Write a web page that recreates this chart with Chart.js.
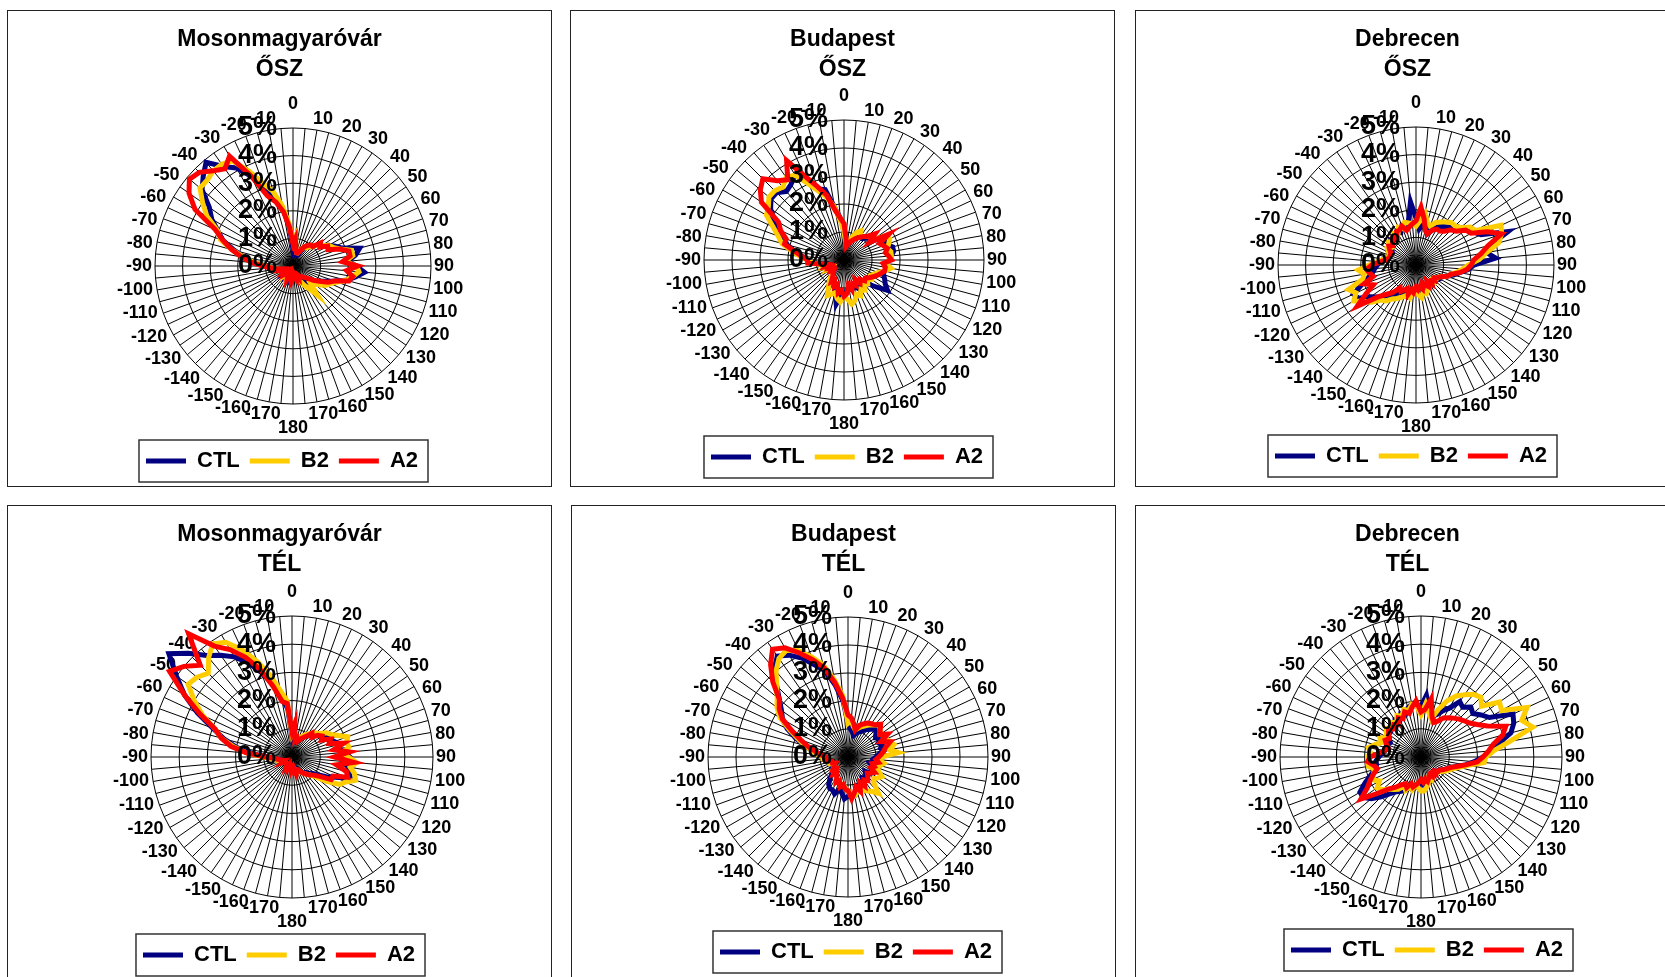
<!DOCTYPE html>
<html>
<head>
<meta charset="utf-8">
<script src="https://cdn.jsdelivr.net/npm/chart.js@4.4.1/dist/chart.umd.min.js"></script>
<style>
  html, body { margin: 0; padding: 0; background: #fff; width: 1665px; height: 977px; overflow: hidden; }
  .panel { position: absolute; width: 543px; height: 475px; border: 1px solid #222; background: #fff; }
  .panel canvas { position: absolute; left: 0; top: 0; }
</style>
</head>
<body>
<div class="panel" style="left:7px;top:10px"><canvas id="c0" data-panel="0" width="543" height="475"></canvas></div>
<div class="panel" style="left:570px;top:10px"><canvas id="c1" data-panel="1" width="543" height="475"></canvas></div>
<div class="panel" style="left:1135px;top:10px"><canvas id="c2" data-panel="2" width="543" height="475"></canvas></div>
<div class="panel" style="left:7px;top:505px"><canvas id="c3" data-panel="3" width="543" height="475"></canvas></div>
<div class="panel" style="left:571px;top:505px"><canvas id="c4" data-panel="4" width="543" height="475"></canvas></div>
<div class="panel" style="left:1135px;top:505px"><canvas id="c5" data-panel="5" width="543" height="475"></canvas></div>
<script>
// wind direction categories, every 5 degrees, labelled every 10
const directions = ['0','','10','','20','','30','','40','','50','','60','','70','','80','','90','',
  '100','','110','','120','','130','','140','','150','','160','','170','','180','',
  '-170','','-160','','-150','','-140','','-130','','-120','','-110','','-100','',
  '-90','','-80','','-70','','-60','','-50','','-40','','-30','','-20','','-10',''];

const seriesNames = ['CTL', 'B2', 'A2'];
const seriesColors = ['#000080', '#FFCC00', '#FF0000'];
const cities = ['Mosonmagyaróvár', 'Budapest', 'Debrecen'];
const seasons = ['ŐSZ', 'TÉL'];

// frequency (%) per direction
const mosonOszCTL = [0.6,0.8,0.6,0.4,0.4,0.5,0.7,0.8,0.9, 1.0,1.2,1.3,1.5,1.7,1.9,2.5,2.3,2.0, 2.3,2.6,2.3,2.0,1.6,1.3,1.1,1.0,0.9, 0.8,0.9,0.7,0.6,0.6,0.5,0.5,0.4,0.4,
  0.4,0.4,0.4,0.5,0.4,0.4,0.3,0.4,0.3, 0.3,0.4,0.3,0.4,0.4,0.4,0.5,0.6,0.8, 1.0,1.4,1.8,2.2,2.7,3.0,3.4,3.7,4.3, 4.6,4.9,4.4,4.1,3.6,3.1,2.6,2.1,1.4];
const mosonOszB2 = [0.9,1.1,0.6,0.5,0.5,0.6,0.8,0.8,0.9, 1.0,1.2,1.3,1.5,1.6,1.8,2.2,2.2,1.9, 2.3,2.4,2.2,2.0,1.7,1.5,1.4,1.2,1.0, 0.9,1.4,1.0,0.8,0.6,0.5,0.5,0.4,0.4,
  0.4,0.4,0.3,0.4,0.4,0.3,0.4,0.3,0.4, 0.3,0.4,0.4,0.3,0.4,0.5,0.5,0.6,0.8, 1.0,1.4,1.8,2.3,2.8,3.0,3.6,4.0,4.4, 4.4,4.5,4.5,4.4,3.8,3.2,2.8,2.2,1.5];
const mosonOszA2 = [0.8,1.0,0.6,0.5,0.5,0.6,0.8,0.9,1.0, 1.0,1.3,1.2,1.45,1.4,1.8,2.1,2.1,1.8, 2.35,1.95,2.2,2.1,1.6,1.4,1.1,0.9,0.7, 0.6,0.5,0.5,0.4,0.5,0.4,0.5,0.4,0.3,
  0.4,0.3,0.5,0.4,0.3,0.5,0.4,0.4,0.3, 0.4,0.3,0.4,0.3,0.4,0.5,0.4,0.6,0.8, 1.1,1.5,1.9,2.3,2.7,3.1,4.1,4.6,4.9, 4.8,4.5,4.3,4.6,3.6,2.7,2.4,2.0,1.4];

const budaOszCTL = [1.1,0.8,0.6,0.6,0.8,1.0,1.1,1.0,1.0, 1.1,1.3,1.2,1.5,1.6,1.6,1.8,1.8,1.7, 1.6,1.5,1.6,1.5,1.5,1.6,1.7,1.9,1.5, 1.2,1.0,1.1,0.9,1.1,1.0,1.1,1.0,1.1,
  1.2,1.3,1.6,1.2,1.0,0.9,0.8,0.7,0.6, 0.5,0.6,0.5,0.6,0.6,0.7,0.6,0.8,1.1, 1.3,1.5,1.8,2.1,2.3,2.6,2.9,3.2,3.4, 3.4,3.2,3.3,3.5,3.1,2.7,2.6,1.9,1.5];
const budaOszB2 = [1.0,0.7,0.6,0.7,0.9,1.1,1.2,1.0,1.1, 1.2,1.3,1.3,1.7,1.8,1.7,1.6,1.7,1.7, 1.6,1.5,1.7,1.5,1.3,1.2,1.1,1.2,1.1, 1.2,1.1,1.3,1.2,1.4,1.3,1.5,1.6,1.4,
  1.3,1.5,1.4,1.2,1.3,1.4,1.1,0.9,0.7, 0.6,0.6,0.5,0.7,0.6,0.8,0.7,0.9,1.1, 1.3,1.6,1.9,2.3,2.5,2.8,3.2,3.3,3.5, 3.5,3.4,3.6,3.5,3.0,2.6,2.3,1.9,1.4];
const budaOszA2 = [1.3,0.8,0.5,0.6,0.7,0.8,0.9,1.0,1.1, 1.2,1.45,1.1,1.85,1.4,1.5,1.6,1.5,1.6, 1.7,1.4,1.5,1.5,1.4,1.3,1.2,1.1,1.0, 1.05,0.9,1.0,0.8,1.0,0.9,1.1,0.9,1.2,
  1.3,1.1,1.2,0.9,1.0,0.8,0.9,0.7,0.6, 0.5,0.6,0.5,0.6,0.5,0.7,0.6,0.8,1.3, 1.3,1.5,1.8,2.2,2.2,2.5,2.7,3.6,3.9, 4.1,3.7,3.5,4.1,3.3,2.8,2.4,1.8,1.5];

const debrOszCTL = [1.7,1.3,1.5,1.4,1.2,1.4,1.6,1.7,1.8, 2.0,2.1,2.3,2.4,2.6,3.55,2.8,2.6,2.9, 2.1,1.9,1.6,1.4,1.2,1.0,1.0,0.9,0.8, 0.8,0.9,0.8,0.8,0.9,0.8,0.9,1.0,0.9,
  0.9,1.0,1.1,1.2,1.1,1.2,1.1,1.3,1.4, 1.6,1.8,2.0,2.4,2.5,2.1,1.8,1.6,1.5, 1.4,1.3,1.2,1.1,1.0,1.1,1.0,1.1,1.2, 1.3,1.2,1.3,1.4,1.3,1.5,1.4,1.6,2.3];
const debrOszB2 = [1.4,1.6,1.9,1.6,1.5,1.7,1.8,1.9,2.0, 2.0,2.1,2.4,2.5,3.4,3.3,3.1,2.6,2.3, 1.9,1.7,1.5,1.3,1.2,1.0,0.9,0.9,0.8, 0.9,0.8,0.9,0.9,1.0,1.1,1.0,1.2,1.1,
  0.9,1.0,1.2,1.1,1.2,1.3,1.4,1.5,1.7, 1.8,2.1,2.3,2.6,2.4,2.6,2.0,1.9,2.1, 1.7,1.4,1.2,1.1,1.0,1.1,1.2,1.1,1.3, 1.2,1.3,1.4,1.3,1.5,1.4,1.6,1.55,1.5];
const debrOszA2 = [1.6,2.1,1.7,1.3,1.2,1.4,1.5,1.5,1.6, 1.8,1.9,2.2,2.3,2.85,3.3,2.7,2.4,2.1, 2.0,1.85,1.6,1.3,1.2,1.0,0.9,0.8,0.9, 0.8,0.9,0.7,0.9,0.8,0.7,0.9,0.8,0.9,
  0.8,1.0,0.9,1.1,0.9,1.0,1.1,1.0,1.3, 1.5,1.8,2.6,2.1,1.7,2.0,1.6,1.7,1.8, 1.6,1.3,1.1,1.0,1.0,1.0,1.1,1.2,1.1, 1.2,1.3,1.2,1.4,1.4,1.5,1.3,1.4,1.5];

const mosonTelCTL = [0.7,0.9,0.6,0.6,0.6,0.7,0.8,0.9,1.0, 1.1,1.2,1.3,1.4,1.5,1.6,1.75,1.7,1.9, 2.05,1.9,2.0,2.1,2.2,1.7,1.4,1.1,0.9, 0.8,0.7,0.7,0.6,0.5,0.5,0.4,0.4,0.4,
  0.4,0.4,0.3,0.3,0.3,0.3,0.3,0.3,0.3, 0.3,0.3,0.3,0.3,0.3,0.4,0.4,0.5,0.6, 0.9,1.4,2.0,2.5,3.0,3.7,4.4,5.0,5.7, 5.2,4.7,4.4,4.1,3.7,3.2,2.7,2.2,1.7];
const mosonTelB2 = [0.8,1.0,0.7,0.7,0.7,0.8,0.9,1.0,1.1, 1.2,1.3,1.5,1.6,1.8,2.1,2.0,2.05,1.8, 2.0,2.3,2.1,2.3,2.4,2.1,1.95,1.5,1.1, 0.9,0.8,0.7,0.6,0.6,0.5,0.5,0.4,0.4,
  0.4,0.4,0.4,0.3,0.3,0.3,0.3,0.3,0.3, 0.3,0.3,0.3,0.3,0.4,0.4,0.5,0.6,0.7, 1.0,1.6,2.1,2.6,2.9,3.5,4.0,4.5,4.4, 4.2,4.6,4.9,4.7,4.2,3.6,3.0,2.4,2.0];
const mosonTelA2 = [0.9,1.2,0.6,0.7,0.6,0.7,0.8,0.9,1.1, 1.0,1.2,1.3,1.2,1.5,1.4,1.9,1.5,2.05, 1.5,2.2,1.6,2.0,2.1,1.6,1.6,1.2,1.0, 0.9,0.8,0.7,0.6,0.5,0.5,0.6,0.4,0.5,
  0.4,0.5,0.4,0.3,0.4,0.3,0.4,0.3,0.3, 0.3,0.3,0.3,0.4,0.3,0.4,0.4,0.5,0.6, 0.9,1.6,2.2,2.6,2.9,3.6,4.4,5.3,5.0, 4.6,5.7,4.8,4.4,3.9,3.3,2.6,2.0,1.9];

const budaTelCTL = [1.2,1.0,0.9,0.8,0.9,1.0,1.1,1.2,1.3, 1.4,1.3,1.2,1.4,1.2,1.3,1.2,1.3,1.1, 1.0,0.9,1.0,0.8,0.9,0.9,1.0,1.0,0.8, 0.9,1.0,0.9,1.1,1.2,1.1,1.3,1.4,1.3,
  1.4,1.5,1.3,1.2,1.4,1.3,1.3,1.2,1.0, 0.8,0.7,0.7,0.6,0.6,0.7,0.7,0.8,0.8, 0.8,1.0,1.2,1.6,2.0,2.4,2.7,2.9,3.2, 3.6,4.1,4.4,4.2,3.9,3.5,3.2,2.6,2.0];
const budaTelB2 = [1.2,1.3,1.1,1.0,1.1,1.2,1.3,1.4,1.5, 1.6,1.5,1.4,1.5,1.5,1.6,1.7,1.5,1.8, 1.2,1.1,1.3,1.2,1.1,1.2,1.4,1.3,1.2, 1.3,1.7,1.5,1.4,1.3,1.2,1.3,1.4,1.3,
  1.2,1.1,1.0,1.0,0.9,1.0,0.9,0.8,0.8, 0.7,0.7,0.6,0.6,0.6,0.7,0.7,0.8,0.9, 0.9,1.1,1.3,1.6,1.9,2.3,2.8,3.1,3.3, 3.6,4.0,4.3,4.4,4.2,3.8,3.4,2.8,2.2];
const budaTelA2 = [1.5,1.4,1.2,1.0,1.2,1.3,1.4,1.45,1.5, 1.65,1.5,1.4,1.64,1.3,1.6,1.4,1.3,1.2, 1.1,1.0,1.1,0.9,1.0,0.9,1.1,1.0,0.9, 1.0,1.1,1.0,1.2,1.0,1.3,1.1,1.3,1.5,
  1.2,1.15,1.0,1.1,0.9,1.0,0.8,0.7,0.8, 0.6,0.7,0.6,0.6,0.5,0.6,0.6,0.7,0.8, 0.8,1.0,1.2,1.5,1.8,2.2,2.7,3.0,3.2, 3.8,4.3,4.7,4.5,4.1,3.7,3.3,2.7,2.1];

const debrTelCTL = [1.8,2.2,1.7,1.5,1.6,1.8,2.0,2.4,2.3, 2.5,2.4,2.6,2.8,3.6,3.5,3.3,2.8,2.5, 2.2,1.9,1.6,1.3,1.1,1.0,0.9,0.8,0.8, 0.7,0.8,0.7,0.8,0.8,0.9,0.8,0.9,1.0,
  0.9,1.0,1.1,1.2,1.1,1.3,1.4,1.5,1.7, 2.0,2.3,2.5,2.5,2.2,1.9,1.7,1.6,1.6, 1.5,1.4,1.3,1.2,1.3,1.2,1.3,1.4,1.4, 1.5,1.4,1.6,1.5,1.7,1.6,1.8,1.9,1.8];
const debrTelB2 = [1.5,1.9,1.6,1.4,1.8,2.2,2.5,2.7,2.9, 3.0,2.8,3.4,3.3,4.15,3.8,4.1,3.2,2.6, 2.3,2.25,1.7,1.4,1.2,1.1,1.0,0.9,0.8, 0.8,0.8,0.7,0.8,0.9,0.8,1.0,1.1,1.2,
  1.2,1.1,1.0,1.2,1.1,1.3,1.2,1.4,1.5, 1.6,1.8,1.9,1.7,1.9,1.8,1.7,1.9,1.9, 1.9,1.8,1.9,1.7,1.5,1.6,1.4,1.5,1.6, 1.5,1.6,1.5,1.7,1.6,1.8,1.7,1.9,1.8];
const debrTelA2 = [1.6,1.7,2.1,1.5,1.3,1.4,1.6,1.7,1.8, 1.9,2.0,2.1,2.3,2.6,3.2,3.0,2.6,2.4, 2.2,2.0,1.6,1.3,1.1,1.0,0.9,0.8,0.8, 0.7,0.8,0.7,0.8,0.7,0.8,0.9,0.8,0.9,
  0.8,0.9,1.0,1.1,1.0,1.2,1.1,1.2,1.4, 1.6,2.0,2.6,2.2,2.0,1.8,1.6,1.7,1.9, 1.8,1.5,1.3,1.2,1.3,1.4,1.3,1.4,1.5, 1.4,1.5,1.4,1.6,1.5,1.7,1.6,1.8,2.0];

const panels = [
  { city: 0, season: 0, series: [mosonOszCTL, mosonOszB2, mosonOszA2] },
  { city: 1, season: 0, series: [budaOszCTL, budaOszB2, budaOszA2] },
  { city: 2, season: 0, series: [debrOszCTL, debrOszB2, debrOszA2] },
  { city: 0, season: 1, series: [mosonTelCTL, mosonTelB2, mosonTelA2] },
  { city: 1, season: 1, series: [budaTelCTL, budaTelB2, budaTelA2] },
  { city: 2, season: 1, series: [debrTelCTL, debrTelB2, debrTelA2] },
];

// plot placement inside each canvas: centre, 5% radius, legend centre
const panelLayout = [
  { cx: 285, cy: 255, r: 138, lx: 274, ly: 450 },
  { cx: 273, cy: 249, r: 140, lx: 276, ly: 446 },
  { cx: 280, cy: 254, r: 138, lx: 275, ly: 445 },
  { cx: 284, cy: 251, r: 141, lx: 271, ly: 449 },
  { cx: 276, cy: 251, r: 140, lx: 284, ly: 446 },
  { cx: 285, cy: 251, r: 141, lx: 291, ly: 444 },
];

const FONT = '"Liberation Sans", Arial, sans-serif';
Chart.defaults.font.family = FONT;
Chart.defaults.color = '#000';

const LABEL_SIZE = 18;
const LEGEND_SIZE = 22;

function layoutFor(chart) {
  return panelLayout[+chart.canvas.dataset.panel];
}

// put the radar where the original sits and lay the direction labels around it
function placeRadar(scale) {
  const L = layoutFor(scale.chart);
  scale.xCenter = L.cx;
  scale.yCenter = L.cy;
  scale.drawingArea = L.r;
  const ctx = scale.ctx;
  ctx.save();
  ctx.font = 'bold ' + LABEL_SIZE + 'px ' + FONT;
  const lh = LABEL_SIZE * 1.2;
  (scale._pointLabelItems || []).forEach((item, i) => {
    const text = scale._pointLabels[i];
    const w = ctx.measureText(text).width;
    const a0 = scale.getIndexAngle(i);
    const a = a0 + 0.078 * Math.sin(2 * a0);
    const s = Math.sin(a), c = Math.cos(a);
    const ext = w / 2 * Math.abs(s) + 7 * Math.abs(c);
    const gap = Math.abs(s) < 0.01 ? 17 : 3;
    const d = L.r + gap + ext;
    const x = L.cx + d * s;
    const y = L.cy - d * c;
    Object.assign(item, {
      visible: text !== '', x: x, y: y - lh / 2, textAlign: 'center',
      left: x - w / 2, right: x + w / 2, top: y - lh / 2, bottom: y + lh / 2
    });
  });
  ctx.restore();
}

const percentLabels = {
  id: 'percentLabels',
  afterDatasetsDraw(chart) {
    const r = chart.scales.r;
    const ctx = chart.ctx;
    ctx.save();
    ctx.font = 'bold 27px ' + FONT;
    ctx.fillStyle = '#000';
    ctx.textAlign = 'right';
    ctx.textBaseline = 'middle';
    r.ticks.forEach(t => {
      ctx.fillText(t.value + '%', r.xCenter - 16, r.yCenter - r.getDistanceFromCenterForValue(t.value));
    });
    ctx.restore();
  }
};

const legendFrame = {
  id: 'legendFrame',
  afterLayout(chart) {
    const lg = chart.legend;
    const L = layoutFor(chart);
    const pad = lg.options.labels.padding;
    const dx = L.lx - (lg.left + lg.right) / 2;
    const dy = L.ly - (lg.top + pad + LEGEND_SIZE / 2);
    lg.left += dx; lg.right += dx;
    lg.top += dy; lg.bottom += dy;
  },
  afterDraw(chart) {
    const boxes = chart.legend.legendHitBoxes;
    if (!boxes || !boxes.length) return;
    const lefts = boxes.map(b => b.left), rights = boxes.map(b => b.left + b.width);
    const x0 = Math.min(...lefts), x1 = Math.max(...rights);
    const cy = boxes[0].top + LEGEND_SIZE / 2;
    const ctx = chart.ctx;
    ctx.save();
    ctx.strokeStyle = '#333';
    ctx.lineWidth = 1.5;
    ctx.strokeRect(x0 - 7, cy - 21, x1 - x0 + 17, 42);
    ctx.restore();
  }
};

panels.forEach((p, k) => {
  const canvas = document.getElementById('c' + k);
  new Chart(canvas.getContext('2d'), {
    type: 'radar',
    data: {
      labels: directions,
      datasets: p.series.map((values, i) => ({
        label: seriesNames[i],
        data: values,
        borderColor: seriesColors[i],
        backgroundColor: seriesColors[i],
        borderWidth: 5,
        borderJoinStyle: 'miter',
        borderCapStyle: 'round',
        pointRadius: 0,
        pointHoverRadius: 0,
        fill: false,
        tension: 0,
        clip: false,
        order: 2 - i
      }))
    },
    options: {
      responsive: false,
      animation: false,
      events: [],
      layout: { padding: 0 },
      scales: {
        r: {
          min: 0,
          max: 5,
          startAngle: 0,
          ticks: { stepSize: 1, display: false },
          grid: { color: '#000', lineWidth: 1, circular: false },
          angleLines: { color: '#000', lineWidth: 1 },
          pointLabels: { color: '#000', padding: 3, font: { size: LABEL_SIZE, weight: 'bold' } },
          afterFit: placeRadar
        }
      },
      plugins: {
        tooltip: { enabled: false },
        title: {
          display: true,
          text: [cities[p.city], seasons[p.season]],
          color: '#000',
          font: { size: 23, weight: 'bold', lineHeight: 1.304 },
          padding: { top: 14, bottom: 0 }
        },
        legend: {
          display: true,
          position: 'bottom',
          labels: {
            color: '#000',
            font: { size: LEGEND_SIZE, weight: 'bold' },
            usePointStyle: true,
            pointStyle: 'line',
            pointStyleWidth: 40,
            padding: 10,
            sort: (a, b) => a.datasetIndex - b.datasetIndex
          }
        }
      }
    },
    plugins: [percentLabels, legendFrame]
  });
});
</script>
</body>
</html>
